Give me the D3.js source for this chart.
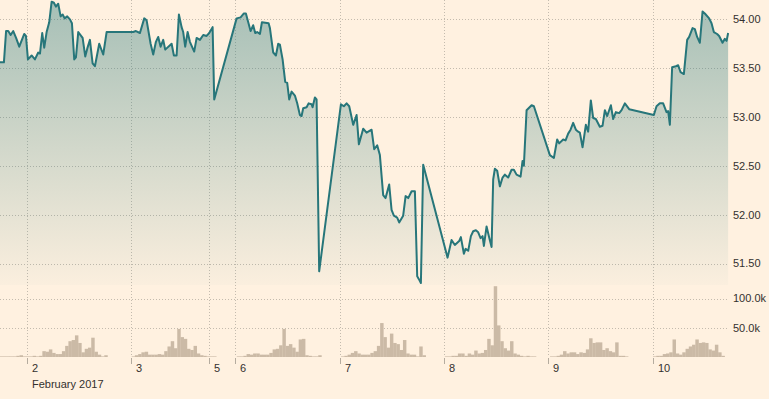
<!DOCTYPE html>
<head>
  <meta charset="utf-8">
  <title>Price and volume, 5 days</title>
<style>
html, body {
  margin: 0;
  padding: 0;
  background: #fff1e0;
}
body {
  font-family: 'Liberation Sans', Arial, sans-serif;
}
.grid {
  stroke: #c4bbae;
  stroke-dasharray: 1,2;
}
.axis-label {
  font-size: 11px;
  fill: #33302e;
}
.price-line {
  fill: none;
  stroke: #27767a;
  stroke-width: 2px;
  stroke-linejoin: round;
}
.vol {
  fill: #cbbaa6;
}
</style>
</head>
<body>
<svg width="769" height="399"></svg>
<script src="https://d3js.org/d3.v7.min.js"></script>
<script>
// hours on a trading-time axis, 0 = start of 2 Feb (weekend squeezed out)
var price = [
  [-6.2,53.56],[-5.3,53.56],[-4.8,53.88],[-4.3,53.88],[-3.75,53.84],[-3.15,53.88],[-2.5,53.81],[-1.77,53.72],
  [-0.62,53.85],[-0.23,53.83],[0.23,53.59],[1.08,53.63],[1.84,53.59],[2.6,53.66],[3.0,53.65],[3.52,53.86],
  [3.98,53.71],[4.53,53.87],[5.13,53.97],[5.68,54.18],[6.21,54.17],[6.67,54.13],[7.2,54.16],[7.76,54.03],
  [8.22,54.05],[8.68,54.01],[9.27,54.03],[9.9,54.0],[10.36,53.96],[10.89,53.59],[11.28,53.61],[11.81,53.87],
  [12.82,53.81],[13.42,53.62],[13.88,53.7],[14.5,53.79],[15.12,53.55],[15.65,53.52],[16.64,53.75],[17.56,53.64],
  [18.34,53.87],[24.46,53.87],[25.09,53.88],[26.01,53.86],[27.0,54.01],[27.55,53.99],[28.47,53.75],[29.07,53.64],
  [29.69,53.77],[30.22,53.82],[30.77,53.72],[31.37,53.79],[31.83,53.69],[33.3,53.75],[33.83,53.63],[34.45,53.63],
  [34.98,54.05],[35.6,53.92],[35.97,53.87],[36.43,53.72],[36.99,53.87],[37.51,53.77],[38.5,53.67],[39.06,53.81],
  [39.82,53.79],[40.58,53.84],[41.36,53.83],[41.96,53.86],[42.74,53.92],[43.11,53.18],
  [48.26,54.01],[49.18,54.02],[49.94,54.06],[50.4,54.06],[51.48,53.88],[52.08,53.94],[52.54,53.86],[53.0,53.87],
  [53.63,53.85],[54.09,53.97],[55.63,53.96],[55.93,53.91],[56.69,53.66],[57.31,53.63],[57.84,53.75],[58.23,53.74],
  [58.85,53.59],[59.45,53.36],[59.91,53.35],[60.37,53.18],[60.92,53.26],[61.68,53.22],[62.21,53.14],[62.83,53.02],
  [63.22,53.01],[63.59,53.09],[64.37,53.1],[64.83,53.14],[65.52,53.13],[65.75,53.1],[66.28,53.2],[66.67,53.18],
  [67.27,51.42],
  [72.27,53.13],[72.96,53.11],[73.58,53.14],[74.18,53.11],[75.1,52.92],[75.88,53.02],[76.41,52.72],[77.4,52.88],
  [78.18,52.84],[79.33,52.87],[79.93,52.67],[80.62,52.71],[81.24,52.61],[82.0,52.2],[82.55,52.17],[83.38,52.31],
  [83.93,52.05],[84.46,51.99],[85.22,51.97],[85.68,51.92],[86.6,51.99],[87.16,52.19],[87.76,52.17],[88.54,52.24],
  [89.3,52.24],[89.83,51.37],[90.22,51.34],[90.68,51.3],[91.21,52.51],
  [96.82,51.56],[97.74,51.74],[98.5,51.69],[99.49,51.73],[99.88,51.77],[100.58,51.6],[100.97,51.65],[101.57,51.63],
  [102.19,51.78],[102.72,51.83],[103.34,51.84],[103.87,51.82],[104.42,51.76],[104.88,51.78],[105.18,51.68],[105.8,51.88],
  [106.33,51.78],[106.95,51.67],[107.32,52.36],[107.71,52.47],[108.24,52.45],[108.86,52.29],[109.48,52.38],[110.01,52.41],
  [110.77,52.38],[111.55,52.46],[112.08,52.46],[112.7,52.41],[113.62,52.39],[114.08,52.55],[114.38,52.5],[115.01,53.07],
  [116.16,53.12],[116.69,53.11],
  [120.37,52.61],[121.29,52.58],[122.05,52.77],[122.51,52.73],[123.43,52.77],[123.98,52.76],[124.58,52.83],[125.13,52.87],
  [125.73,52.94],[126.35,52.87],[126.88,52.85],[127.27,52.84],[127.89,52.69],[128.65,52.92],[129.18,52.85],[129.8,53.17],
  [130.33,52.99],[130.95,52.98],[131.87,52.9],[132.49,52.91],[133.03,53.07],[133.56,53.01],[134.41,53.12],[134.94,52.98],
  [135.56,53.05],[136.32,53.04],[136.87,53.07],[137.63,53.14],[138.62,53.08],
  [144.3,53.02],[144.92,53.11],[145.68,53.14],[146.44,53.14],[147.22,53.05],[147.59,53.06],[147.99,52.92],[148.51,53.51],
  [149.37,53.52],[149.9,53.53],[150.45,53.46],[151.21,53.44],[151.97,53.79],[152.43,53.82],[153.21,53.91],[153.74,53.9],
  [154.27,53.82],[154.89,53.76],[155.51,54.08],[156.04,54.06],[157.03,54.01],[157.58,53.96],[158.11,53.87],[158.87,53.85],
  [159.33,53.83],[160.11,53.76],[160.64,53.8],[161.04,53.78],[161.4,53.86]
];

// volume in thousands, one bar every 0.75 h from each session start
var barHours = 0.75;
var volStarts = [-6.2, 24.1, 48.3, 72.3, 96.2, 120.4, 144.1];
var volValues = [
  [1,1,1,1,1,2,3,1,1,1,2,1,2,10,9,13,7,5,5,10,19,27,29,37,24,8,14,16,33,9,4,1,3],
  [1,3,5,8,9,4,4,4,5,4,10,18,27,15,48,34,31,14,12,19,6,3,2,1,1,1],
  [1,1,2,5,4,6,6,4,4,4,7,13,14,20,48,19,22,16,9,30,31,3,2,1,1,3],
  [1,2,4,7,10,6,4,4,4,7,10,19,58,34,16,40,24,22,12,29,6,4,4,1,18,3],
  [1,1,2,2,6,6,2,6,4,11,6,7,12,31,20,121,54,27,15,11,27,6,4,2,1,2,1,1],
  [1,1,2,4,10,6,8,8,5,8,7,13,32,24,25,25,12,15,10,8,25,2,2,1],
  [1,2,2,5,6,8,30,6,4,8,14,18,21,30,24,25,24,13,11,21,8,2]
];

var dayTicks = [0, 24, 42, 48, 72, 96, 120, 144];
var dayLabels = ["2", "3", "5", "6", "7", "8", "9", "10"];
var monthLabel = "February 2017";
var priceTicks = [51.5, 52, 52.5, 53, 53.5, 54];
var volTicks = [50, 100];

var svg = d3.select("svg");
var plotRight = 729;

var x = d3.scaleLinear().domain([-6.2, 161.6]).range([0, plotRight]);
var yPrice = d3.scaleLinear().domain([51.28, 54.198]).range([285, 0]);
var yVol = d3.scaleLinear().domain([0, 100]).range([357, 298.5]);

var defs = svg.append("defs");
var grad = defs.append("linearGradient")
    .attr("id", "fade")
    .attr("gradientUnits", "userSpaceOnUse")
    .attr("x1", 0).attr("y1", 0).attr("x2", 0).attr("y2", 285);
grad.append("stop").attr("offset", 0).attr("stop-color", "#2a7a7c").attr("stop-opacity", 0.42);
grad.append("stop").attr("offset", 1).attr("stop-color", "#2a7a7c").attr("stop-opacity", 0.02);

// grid
svg.selectAll(".hgrid").data(priceTicks)
  .enter().append("line")
    .attr("class", "grid")
    .attr("x1", 0).attr("x2", plotRight - 1)
    .attr("y1", function(d) { return Math.round(yPrice(d)) + 0.5; })
    .attr("y2", function(d) { return Math.round(yPrice(d)) + 0.5; });

svg.selectAll(".vgrid-vol").data(volTicks)
  .enter().append("line")
    .attr("class", "grid")
    .attr("x1", 0).attr("x2", plotRight - 1)
    .attr("y1", function(d) { return Math.round(yVol(d)) + 0.5; })
    .attr("y2", function(d) { return Math.round(yVol(d)) + 0.5; });

svg.selectAll(".vgrid").data(dayTicks)
  .enter().append("line")
    .attr("class", "grid")
    .attr("x1", function(d) { return Math.round(x(d)) + 0.5; })
    .attr("x2", function(d) { return Math.round(x(d)) + 0.5; })
    .attr("y1", 0).attr("y2", 357);

// price area + line
var area = d3.area()
    .x(function(d) { return x(d[0]); })
    .y0(yPrice.range()[0])
    .y1(function(d) { return yPrice(d[1]); });

var line = d3.line()
    .x(function(d) { return x(d[0]); })
    .y(function(d) { return yPrice(d[1]); });

svg.append("path")
    .datum(price)
    .attr("fill", "url(#fade)")
    .attr("d", area);

svg.append("path")
    .datum(price)
    .attr("class", "price-line")
    .attr("d", line);

// volume bars
volStarts.forEach(function(start, s) {
  svg.append("g").selectAll("rect")
    .data(volValues[s])
    .enter().append("rect")
      .attr("class", "vol")
      .attr("x", function(d, i) { return x(start + i * barHours); })
      .attr("width", x(barHours) - x(0) + 0.2)
      .attr("y", function(d) { return yVol(d); })
      .attr("height", function(d) { return yVol(0) - yVol(d); });
});

// bottom ticks + labels
svg.selectAll(".xtick").data(dayTicks)
  .enter().append("line")
    .attr("x1", function(d) { return Math.round(x(d)) + 0.5; })
    .attr("x2", function(d) { return Math.round(x(d)) + 0.5; })
    .attr("y1", 358).attr("y2", 364)
    .attr("stroke", "#b5ac9f");

svg.selectAll(".xlabel").data(dayTicks)
  .enter().append("text")
    .attr("class", "axis-label")
    .attr("x", function(d) { return Math.round(x(d)) + 5; })
    .attr("y", 372)
    .text(function(d, i) { return dayLabels[i]; });

svg.append("text")
    .attr("class", "axis-label")
    .attr("x", Math.round(x(dayTicks[0])) + 5)
    .attr("y", 388)
    .text(monthLabel);

svg.selectAll(".ylabel").data(priceTicks)
  .enter().append("text")
    .attr("class", "axis-label")
    .attr("x", 733)
    .attr("y", function(d) { return yPrice(d); })
    .attr("dy", "0.36em")
    .text(function(d) { return d.toFixed(2); });

svg.selectAll(".vlabel").data(volTicks)
  .enter().append("text")
    .attr("class", "axis-label")
    .attr("x", 733)
    .attr("y", function(d) { return yVol(d); })
    .attr("dy", "0.36em")
    .text(function(d) { return d.toFixed(1) + "k"; });
</script>
</body>
